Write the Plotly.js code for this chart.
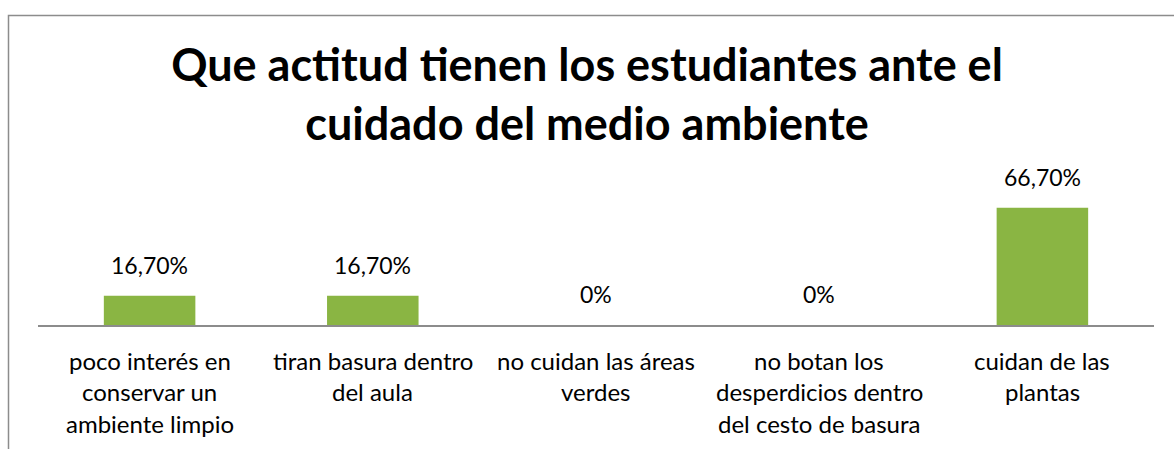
<!DOCTYPE html>
<html>
<head>
<meta charset="utf-8">
<script src="https://cdn.plot.ly/plotly-3.0.1.min.js"></script>
<style>html,body{margin:0;padding:0;background:#fff;}#chart{width:1174px;height:449px;}</style>
</head>
<body>
<div id="chart"></div>
<script>
const titleText = 'Que actitud tienen los estudiantes ante el<br>cuidado del medio ambiente';
const categories = [
  'poco interés en<br>conservar un<br>ambiente limpio',
  'tiran basura dentro<br>del aula',
  'no cuidan las áreas<br>verdes',
  'no botan los<br>desperdicios dentro<br>del cesto de basura',
  'cuidan de las<br>plantas'
];
const values = [16.7, 16.7, 0, 0, 66.7];
const valueLabels = ['16,70%', '16,70%', '0%', '0%', '66,70%'];

const FONT = 'Lato, "Open Sans", sans-serif';
const W = 1174, H = 449;
const margin = {l: 38, r: 20, t: 202, b: 124};
const pw = W - margin.l - margin.r, ph = H - margin.t - margin.b;
const px2x = p => (p - margin.l) / pw;
const px2y = p => (H - margin.b - p) / ph;

const annotations = [];
categories.forEach((c, i) => {
  annotations.push({
    x: c, y: values[i], xref: 'x', yref: 'y',
    text: valueLabels[i], showarrow: false,
    yanchor: 'bottom', yshift: 15,
    font: {family: FONT, size: 23, color: '#000'}
  });
  c.split('<br>').forEach((line, j) => {
    annotations.push({
      x: c, y: 0, xref: 'x', yref: 'y',
      text: line, showarrow: false,
      yanchor: 'middle', yshift: -(35 + j * 31.5),
      font: {family: FONT, size: 24, color: '#000'}
    });
  });
});

const data = [{
  type: 'bar',
  x: categories,
  y: values,
  width: 0.41,
  marker: {
    color: '#8ab543',
    line: {color: '#9cc456', width: 0}
  },
  hoverinfo: 'none'
}];

const layout = {
  width: W, height: H,
  margin: margin,
  paper_bgcolor: '#fff', plot_bgcolor: '#fff',
  showlegend: false,
  title: {
    text: titleText,
    font: {family: FONT, size: 45, color: '#000', weight: 'bold'},
    x: 0.5, xref: 'container', xanchor: 'center',
    y: 1 - 81 / H, yref: 'container', yanchor: 'top'
  },
  xaxis: {
    type: 'category',
    showticklabels: false, ticks: '',
    showline: true, linecolor: '#8c8c8c', linewidth: 1.5,
    showgrid: false, zeroline: false, fixedrange: true
  },
  yaxis: {
    range: [0, 70], visible: false, showgrid: false, zeroline: false, fixedrange: true
  },
  annotations: annotations,
  shapes: [{
    type: 'rect', xref: 'paper', yref: 'paper',
    x0: px2x(8.5), x1: px2x(1180), y0: px2y(460), y1: px2y(15.5),
    line: {color: '#8c8c8c', width: 1.5}, fillcolor: 'rgba(0,0,0,0)', layer: 'above'
  }]
};

Plotly.newPlot('chart', data, layout, {displayModeBar: false, staticPlot: true});
</script>
</body>
</html>
